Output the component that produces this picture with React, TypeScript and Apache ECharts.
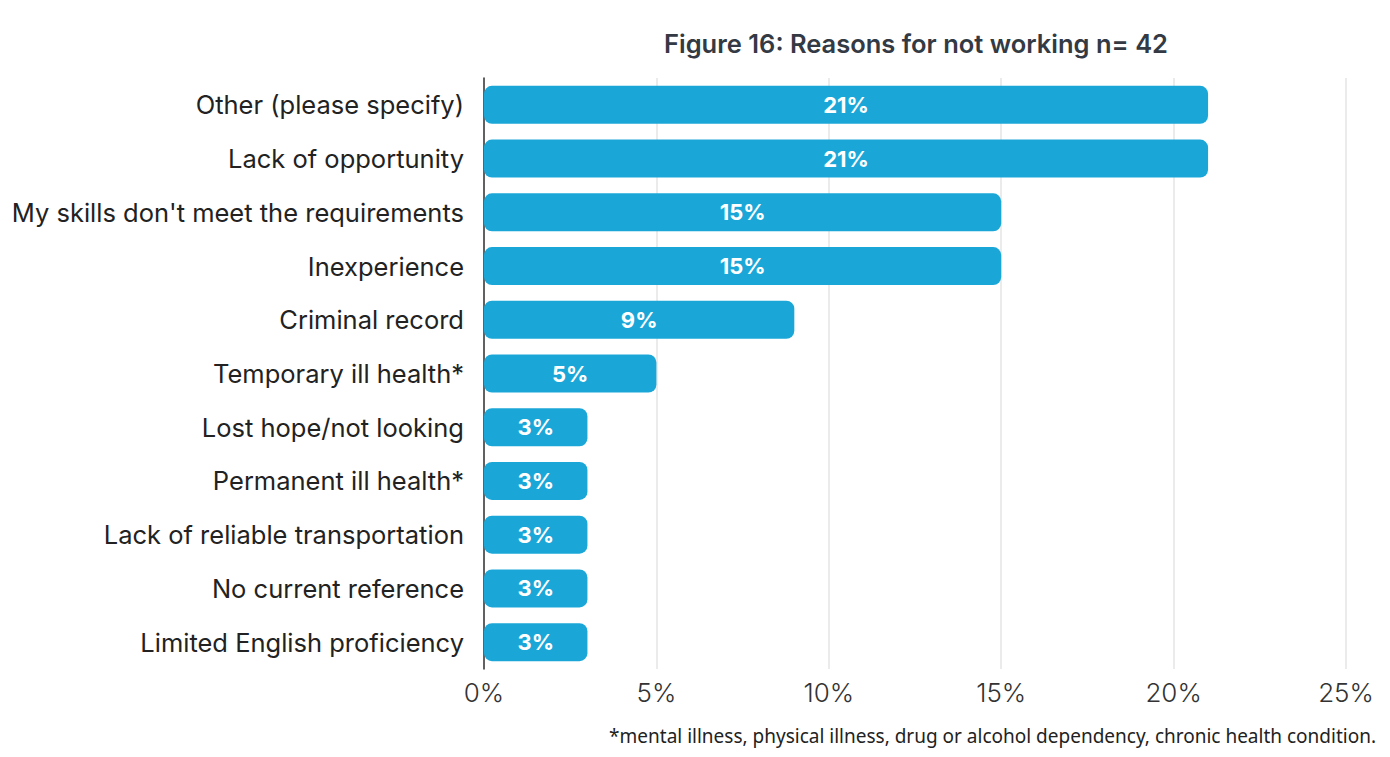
import React, { useEffect, useRef } from "react";
import * as echarts from "echarts";

const categories = [
  "Other (please specify)",
  "Lack of opportunity",
  "My skills don't meet the requirements",
  "Inexperience",
  "Criminal record",
  "Temporary ill health*",
  "Lost hope/not looking",
  "Permanent ill health*",
  "Lack of reliable transportation",
  "No current reference",
  "Limited English proficiency",
];
const values = [21, 21, 15, 15, 9, 5, 3, 3, 3, 3, 3];
const title = "Figure 16: Reasons for not working n= 42";
const footnote =
  "*mental illness, physical illness, drug or alcohol dependency, chronic health condition.";

export default function App() {
  const ref = useRef<HTMLDivElement>(null);
  useEffect(() => {
    if (!ref.current) return;
    const chart = echarts.init(ref.current, null, { renderer: "svg" });
    chart.setOption({
      animation: false,
      backgroundColor: "#ffffff",
      textStyle: { fontFamily: "Inter" },
      title: {
        text: title,
        left: 911,
        top: 25,
        textAlign: "center",
        textStyle: { fontSize: 25.5, fontWeight: 600, color: "#333a44", fontFamily: "Inter" },
      },
      graphic: [
        {
          type: "text",
          right: 14,
          top: 726,
          style: {
            text: footnote,
            fontSize: 19,
            fill: "#222222",
            fontFamily: "Noto Sans",
          },
        },
      ],
      grid: { left: 484, right: 44, top: 78, bottom: 88, containLabel: false },
      xAxis: {
        type: "value",
        min: 0,
        max: 25,
        interval: 5,
        axisLabel: {
          formatter: "{value}%",
          fontSize: 26,
          color: "#333333",
          margin: 10,
          fontFamily: "Inter",
          fontWeight: 300,
        },
        axisLine: { show: false },
        axisTick: { show: false },
        splitLine: { show: true, lineStyle: { color: "#e4e4e4", width: 1.5 } },
      },
      yAxis: {
        type: "category",
        data: categories,
        inverse: true,
        axisLabel: {
          fontSize: 25.5,
          color: "#222222",
          margin: 20,
          fontFamily: "Inter",
        },
        axisLine: { show: true, lineStyle: { color: "#333333", width: 1.5 } },
        axisTick: { show: false },
      },
      series: [
        {
          type: "bar",
          data: values,
          barWidth: 38,
          itemStyle: { color: "#1aa7d8", borderRadius: 8 },
          label: {
            show: true,
            position: "inside",
            formatter: "{c}%",
            color: "#ffffff",
            fontSize: 22,
            fontWeight: "bold",
            fontFamily: "Inter",
          },
        },
      ],
    });
    return () => chart.dispose();
  }, []);
  return <div ref={ref} style={{ width: 1390, height: 757, margin: -8 }} />;
}
